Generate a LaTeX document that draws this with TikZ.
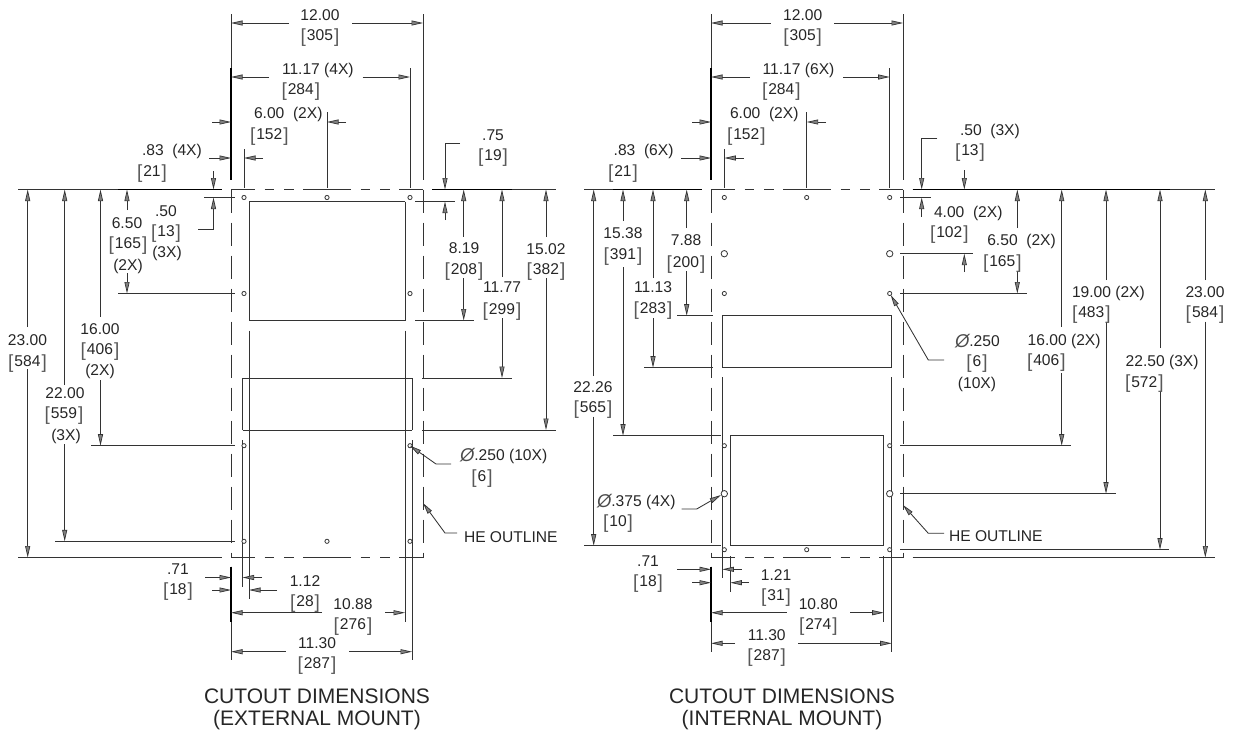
\documentclass[tikz,border=0pt]{standalone}
\usepackage{fontspec}
\setmainfont{Liberation Sans}
\usetikzlibrary{arrows.meta}
\newcounter{lb}
\newcommand\Tc[3]{\stepcounter{lb}\node[lab,anchor=base] (t\arabic{lb}) at (#1,#2+5.6) {#3};}
\newcommand\Tl[3]{\stepcounter{lb}\node[lab,anchor=base west] (t\arabic{lb}) at (#1,#2+5.6) {#3};}
\newcommand\br[1]{\raisebox{-1.6pt}{\fontsize{19}{19}\selectfont\color{black!65}[}\kern1pt#1\kern1pt\raisebox{-1.6pt}{\fontsize{19}{19}\selectfont\color{black!65}]}}
\newcommand\dia{{\fontsize{18.5}{18}\selectfont\itshape\color{black!70}\raisebox{-0.8pt}{Ø}}}
\tikzset{
 lab/.style={inner sep=0pt,outer sep=0pt,text=black!85,font=\fontsize{15.6}{18}\selectfont},
 ttl/.style={inner sep=0pt,outer sep=0pt,text=black!85,font=\fontsize{21}{22}\selectfont,align=center},
 ln/.style={draw=black!80,line width=0.85pt},
 thk/.style={draw=black,line width=1.5pt},
 arr/.style={ln,-{Triangle[length=11.5pt,width=5pt,fill=black!50,line width=0.7pt]}},
 dsh/.style={ln,dash pattern=on 23pt off 10pt},
 hole/.style={draw=black!80,line width=0.8pt,fill=white},
}
\newcommand\hdash[2]{\foreach \p/\q in {0/23.5,33.5/43,53/62.7,72.3/120,129.7/139.3,149/158.7,168.3/192}
  \draw[ln] (#1+\p,#2) -- (#1+\q,#2);}
\begin{document}
\begin{tikzpicture}[x=1pt,y=-1pt]
\useasboundingbox (0,0) rectangle (1238,734);
% ---------- LEFT DRAWING ----------
\hdash{231}{189.5}\hdash{231}{557.5}
\draw[dsh] (231,189.5) -- (231,557.5);
\draw[dsh] (423,189.5) -- (423,557.5);
\foreach \a/\b/\c/\d in {231/14/231/180,423/14/423/180,410/68/410/188,327/112/327/188,244/149/244/188,
 18/189.5/222/189.5,432/189.5/556/189.5,18/557.5/222/557.5,
 204/197.5/235/197.5,118/293.5/235/293.5,91/445.7/235/445.7,55/541.3/235/541.3,
 415/201.5/455/201.5,415/320.5/474/320.5,422/378/512/378,422/430/556/430,
 231/566.7/231/660,
 249/201.5/405/201.5,249/201.5/249/320.5,405/201.5/405/320.5,249/320.5/405/320.5,
 249/330.5/249/599,405/330.5/405/622,
 242.5/378/412/378,242.5/378/242.5/430,412/378/412/430,242.5/430/412/430,
 242.5/440/242.5/586.7,412/440/412/660}
 \draw[ln] (\a,\b) -- (\c,\d);
\foreach \a/\b/\c/\d in {231/68/231/180,118/189.5/222/189.5,432/189.5/512/189.5,231/566.7/231/622}
 \draw[thk] (\a,\b) -- (\c,\d);
\foreach \a/\b in {244/197.5,327/197.5,410/197.5,244/293.5,410/293.5,244/445.7,410/445.7,244/541.3,327/541.3,410/541.3}
 \draw[hole] (\a,\b) circle (2.1);
\foreach \a/\b/\c/\d in {289/23/231/23,352/23/423/23,269/77/231/77,362.5/77/410/77,212/122/231/122,346/122/327/122,
 209/158/231/158,263/158/244/158,213.5/171/213.5/189.5,127/210/127/189.5,127/273/127/293.5,
 100.5/316.7/100.5/189.5,100.5/380/100.5/445.7,64.7/385/64.7/189.5,64.7/444/64.7/541.3,
 27.7/327/27.7/189.5,27.7/369/27.7/557.5,445/220/445/201.5,463.7/236.7/463.7/189.5,463.7/278/463.7/320.5,
 502/277/502/189.5,502/318/502/378,546/237/546/189.5,546/278/546/430,
 205/577.5/231/577.5,262/577.5/242.5/577.5,212/590/231/590,277/590/249/590,
 322/612.7/231/612.7,385/612.7/405/612.7,285.5/651.7/231/651.7,349/651.7/412/651.7}
 \draw[arr] (\a,\b) -- (\c,\d);
\draw[arr] (198,229.5) -- (213.5,229.5) -- (213.5,197.5);
\draw[arr] (460,143) -- (445,143) -- (445,189.5);
\draw[arr] (451,464) -- (436,464) -- (410,445.7);
\draw[arr] (457,533) -- (445,533) -- (423,503);
% left labels
\Tc{320}{15}{12.00}\Tc{320}{35}{\br{305}}
\Tl{282}{69}{11.17 (4X)}\Tl{281.5}{89}{\br{284}}
\Tl{254}{113}{6.00 \ (2X)}\Tl{250}{134}{\br{152}}
\Tl{142}{150}{.83 \ (4X)}\Tl{137}{171}{\br{21}}
\Tc{166}{211}{.50}\Tc{166}{231}{\br{13}}\Tc{167}{252}{(3X)}
\Tc{127}{223}{6.50}\Tc{128}{243}{\br{165}}\Tc{128}{265}{(2X)}
\Tc{100}{329}{16.00}\Tc{100}{349}{\br{406}}\Tc{100}{370}{(2X)}
\Tc{65}{392.7}{22.00}\Tc{64}{413}{\br{559}}\Tc{66}{435}{(3X)}
\Tc{27.5}{340}{23.00}\Tc{27.5}{361}{\br{584}}
\Tc{493}{135}{.75}\Tc{493}{155}{\br{19}}
\Tc{464}{248}{8.19}\Tc{464}{269}{\br{208}}
\Tc{502}{287}{11.77}\Tc{502}{309}{\br{299}}
\Tc{546}{249}{15.02}\Tc{546}{269}{\br{382}}
\Tc{178}{569}{.71}\Tc{178}{589}{\br{18}}
\Tc{305}{580.7}{1.12}\Tc{305}{601}{\br{28}}
\Tc{353}{604}{10.88}\Tc{353}{624}{\br{276}}
\Tc{317}{643}{11.30}\Tc{317}{663}{\br{287}}
\Tl{460}{455}{\dia.250 (10X)}\Tc{482}{476}{\br{6}}
\Tl{464}{537}{HE OUTLINE}
\node[ttl] (ttlL) at (317,709) {CUTOUT DIMENSIONS\\(EXTERNAL MOUNT)};
% ---------- RIGHT DRAWING ----------
\hdash{711}{189.5}\hdash{711}{557.5}
\draw[dsh] (711,189.5) -- (711,557.5);
\draw[dsh] (903,189.5) -- (903,557.5);
\foreach \a/\b/\c/\d in {711/14/711/180,903/14/903/180,889.7/68/889.7/188,806.7/112/806.7/188,724.3/149/724.3/188,
 584/189.5/701.7/189.5,912.7/189.5/1215/189.5,912.7/557.5/1215/557.5,
 677/315.7/713/315.7,644/367.7/713/367.7,613/435.7/720.7/435.7,584/545.7/720.7/545.7,
 900/197.5/931/197.5,900/253.7/973.3/253.7,900/293.5/1026.7/293.5,900/445.7/1071/445.7,900/493.7/1115.7/493.7,900/549.7/1169.3/549.7,
 711/566.7/711/652,
 722.3/315.7/891.7/315.7,722.3/367.7/891.7/367.7,722.3/315.7/722.3/367.7,891.7/315.7/891.7/367.7,
 722.3/377/722.3/578,891.7/377/891.7/652,
 730.3/435.7/883.7/435.7,730.3/545.7/883.7/545.7,730.3/435.7/730.3/545.7,883.7/435.7/883.7/545.7,
 730.3/556/730.3/592,883.7/556/883.7/622}
 \draw[ln] (\a,\b) -- (\c,\d);
\foreach \a/\b/\c/\d in {711/68/711/180,613/189.5/701.7/189.5,912.7/189.5/1170/189.5,711/566.7/711/622}
 \draw[thk] (\a,\b) -- (\c,\d);
\foreach \a/\b in {724.3/197.5,806.7/197.5,889.7/197.5,724.3/293.5,889.7/293.5,724.3/445.7,889.7/445.7,724.3/549.7,806.7/549.7,889.7/549.7}
 \draw[hole] (\a,\b) circle (2.1);
\foreach \a/\b in {724.3/253.7,889.7/253.7,724.3/493.7,889.7/493.7}
 \draw[hole] (\a,\b) circle (3.2);
\foreach \a/\b/\c/\d in {770.7/23/711/23,834.3/23/903/23,750/77/711/77,843/77/889.7/77,692/122/711/122,826/122/806.7/122,
 681/158/711/158,743.7/158/724.3/158,
 623/221/623/189.5,623/267/623/435.7,653/278/653/189.5,653/318/653/367.7,686.7/228/686.7/189.5,686.7/271/686.7/315.7,
 593.7/376/593.7/189.5,593.7/416.7/593.7/545.7,
 964.3/170/964.3/189.5,921.7/216.7/921.7/197.5,964.3/272/964.3/253.7,
 1017.3/228/1017.3/189.5,1017.3/271/1017.3/293.5,1061.7/326.7/1061.7/189.5,1061.7/373/1061.7/445.7,
 1106/280/1106/189.5,1106/321.7/1106/493.7,1160/348/1160/189.5,1160/390.7/1160/549.7,
 1205.3/280/1205.3/189.5,1205.3/321.7/1205.3/557.5,
 677.3/569.3/711/569.3,741.7/569.3/722.3/569.3,692.3/582.7/711/582.7,749/582.7/730.3/582.7,
 786.7/612.7/711/612.7,850/612.7/883.7/612.7,735/643.3/711/643.3,798.3/643.3/891.7/643.3}
 \draw[arr] (\a,\b) -- (\c,\d);
\draw[arr] (937.3,138.3) -- (921.7,138.3) -- (921.7,189.5);
\draw[arr] (944,360) -- (928.3,360) -- (890.7,295);
\draw[arr] (944,533.3) -- (928.3,533.3) -- (903,505);
\draw[arr] (681.7,509) -- (696.7,509) -- (721,495);
% right labels
\Tc{802.7}{15}{12.00}\Tc{802.7}{35}{\br{305}}
\Tl{762.7}{69}{11.17 (6X)}\Tl{762}{89}{\br{284}}
\Tl{730}{113}{6.00 \ (2X)}\Tl{727}{134}{\br{152}}
\Tl{613.7}{150}{.83 \ (6X)}\Tl{608}{171}{\br{21}}
\Tc{623}{233}{15.38}\Tc{623}{254}{\br{391}}
\Tc{653}{287}{11.13}\Tc{653}{308}{\br{283}}
\Tc{686}{240}{7.88}\Tc{686}{262}{\br{200}}
\Tc{593}{387}{22.26}\Tc{593}{407}{\br{565}}
\Tl{597}{500.7}{\dia.375 (4X)}\Tc{618}{521}{\br{10}}
\Tl{960}{130}{.50 \ (3X)}\Tl{955}{150}{\br{13}}
\Tl{934}{212}{4.00 \ (2X)}\Tl{930}{232}{\br{102}}
\Tl{987.3}{240}{6.50 \ (2X)}\Tl{983}{261}{\br{165}}
\Tl{1027.7}{340}{16.00 (2X)}\Tl{1027}{360}{\br{406}}
\Tl{1072}{292}{19.00 (2X)}\Tl{1072}{312}{\br{483}}
\Tl{1125.7}{361}{22.50 (3X)}\Tl{1125}{381.7}{\br{572}}
\Tc{1205}{292}{23.00}\Tc{1205}{312}{\br{584}}
\Tl{955}{341}{\dia.250}\Tc{977}{361}{\br{6}}\Tc{977}{383}{(10X)}
\Tc{776}{575}{1.21}\Tc{776}{595}{\br{31}}
\Tc{648}{561}{.71}\Tc{648}{581}{\br{18}}
\Tc{818.3}{604}{10.80}\Tc{818.3}{624}{\br{274}}
\Tc{766.7}{635}{11.30}\Tc{766.7}{655}{\br{287}}
\Tl{949}{536}{HE OUTLINE}
\node[ttl] (ttlR) at (782,709) {CUTOUT DIMENSIONS\\(INTERNAL MOUNT)};
\end{tikzpicture}
\end{document}
